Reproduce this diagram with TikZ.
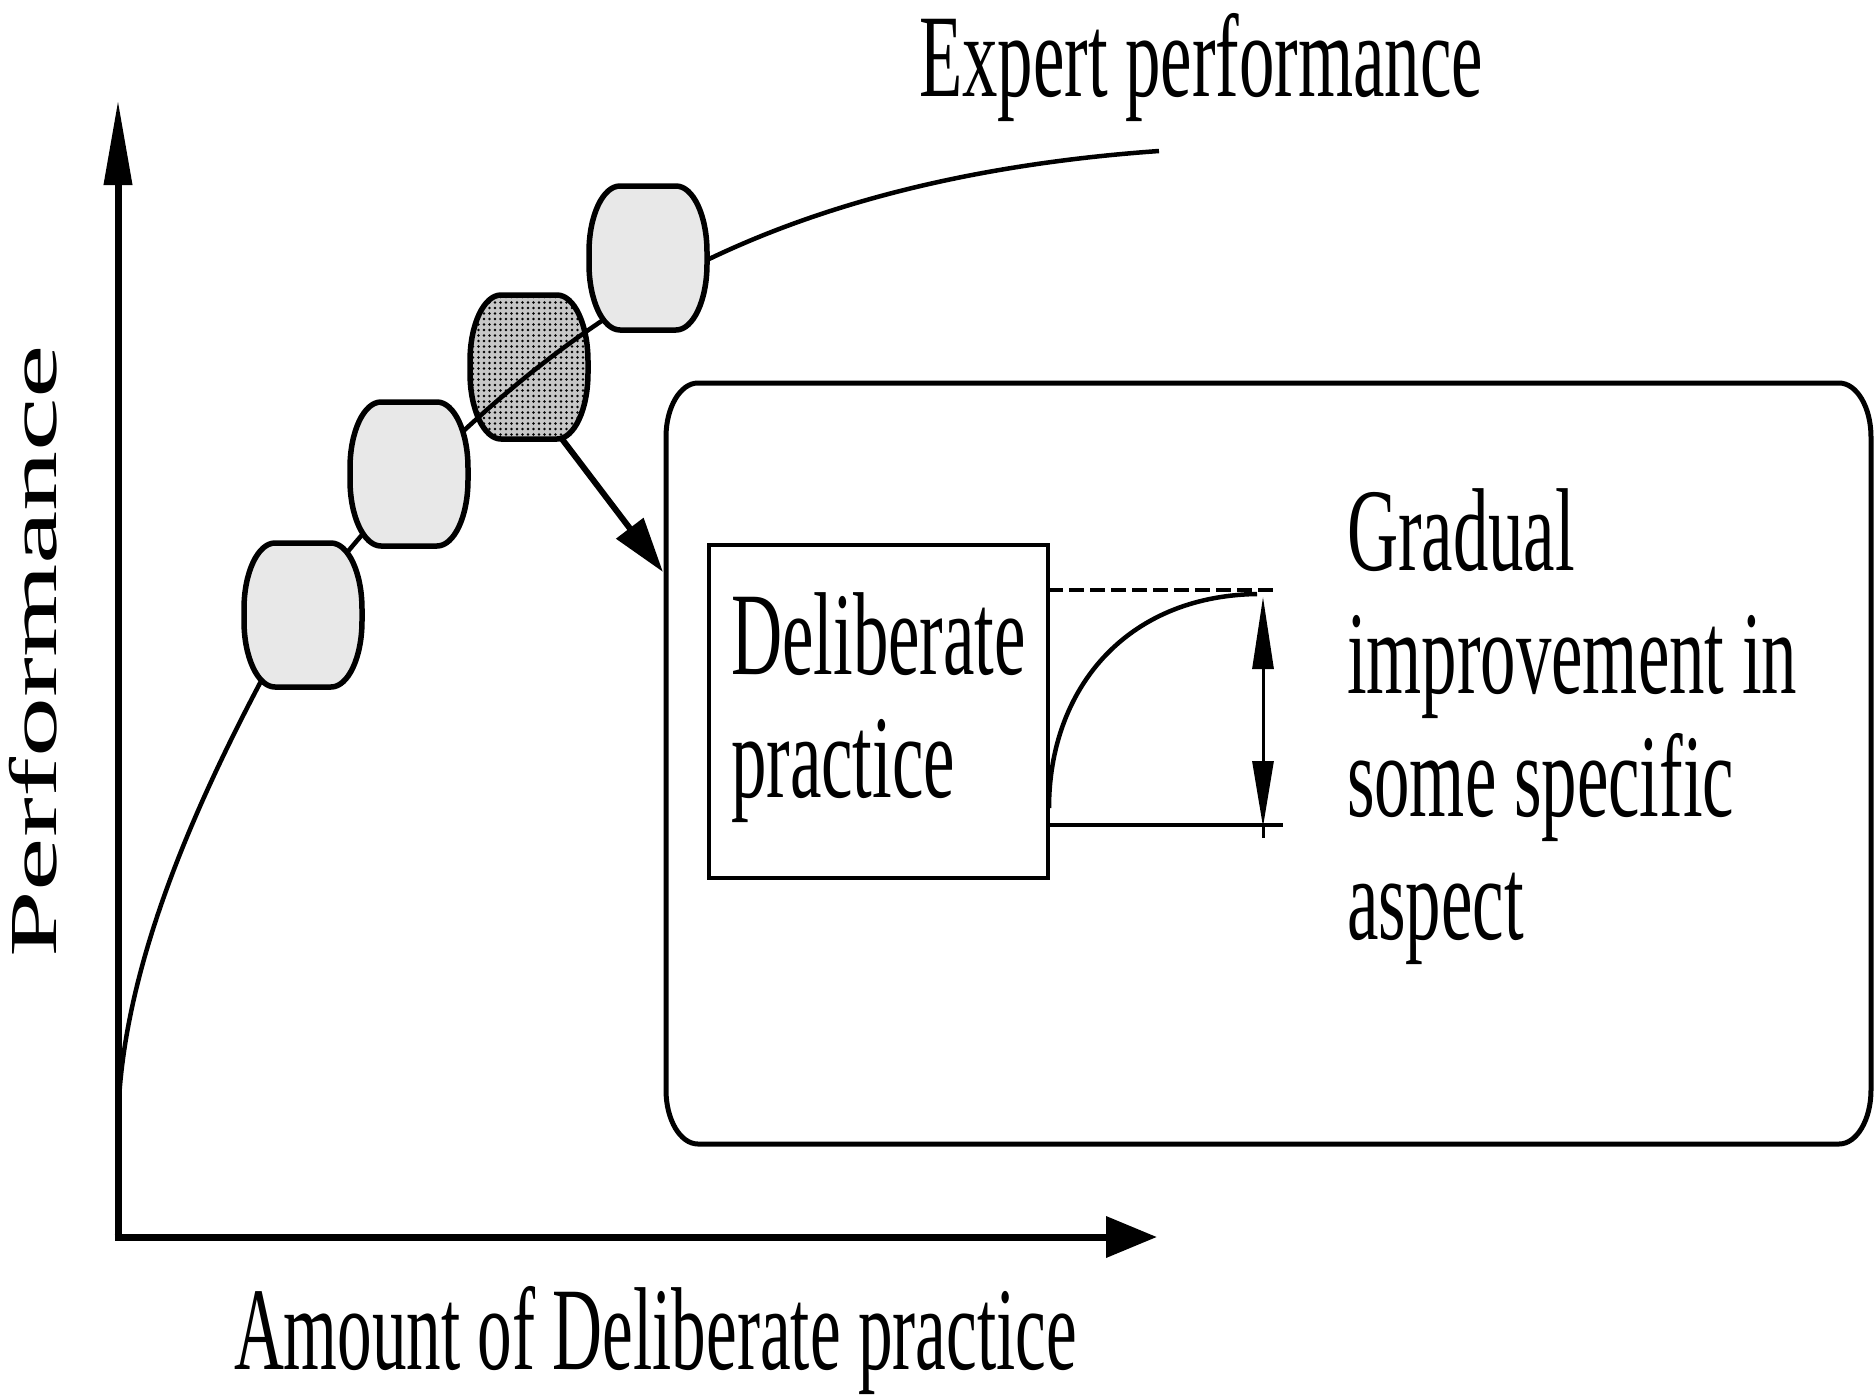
\documentclass[tikz,border=0pt]{standalone}
\usepackage{fontspec}
\setmainfont{Liberation Serif}
\usetikzlibrary{arrows.meta,calc,patterns.meta}
\newcommand\cond[1]{\scalebox{0.6}[1]{#1}}
% rectangle with elliptical corners drawn round a node
\newcommand\eframe[4]{%
  \path[#4] let \p1=(#1.north west), \p2=(#1.south east) in
    (\x1+#2,\y1) -- (\x2-#2,\y1)
    arc[start angle=90,end angle=0,x radius=#2,y radius=#3]
    -- (\x2,\y2+#3)
    arc[start angle=0,end angle=-90,x radius=#2,y radius=#3]
    -- (\x1+#2,\y2)
    arc[start angle=-90,end angle=-180,x radius=#2,y radius=#3]
    -- (\x1,\y1-#3)
    arc[start angle=180,end angle=90,x radius=#2,y radius=#3] -- cycle;}
\begin{document}
\begin{tikzpicture}[x=1pt,y=-1pt,
  txt/.style={font=\fontsize{118}{123}\selectfont, inner sep=0pt, outer sep=0pt},
  blob/.style={minimum width=118pt, minimum height=144pt, inner sep=0pt, outer sep=0pt},
  blobline/.style={draw=black, line width=5.5pt, fill=black!9},
  darkblob/.style={draw=black, line width=5.5pt, preaction={fill=black!22},
    pattern={Dots[radius=1.3pt,distance=5.5pt]}, pattern color=black},
  axis/.style={line width=7pt},
  curve/.style={line width=4.5pt},
  thinln/.style={line width=4.5pt},
  dashln/.style={line width=4.5pt, dash pattern=on 15pt off 6pt},
]
\useasboundingbox (0,0) rectangle (1874,1397);
\fill[white] (0,0) rectangle (1874,1397);

% axes
\coordinate (o) at (118,1237);
\coordinate (ytip) at (118,100);
\coordinate (xtip) at (1157,1237);
\draw[axis, -{Triangle[length=85pt,width=27pt]}] ([yshift=-3.5pt]o) -- (ytip);
\draw[axis, -{Triangle[length=51pt,width=40pt]}] ([xshift=-3.5pt]o) -- (xtip);

% blobs (named)
\node[blob] (b1) at (303,615) {};
\node[blob] (b2) at (409,474) {};
\node[blob] (b3) at (529,367) {};
\node[blob] (b4) at (648,258) {};

% highlighted blob under the curve
\eframe{b3}{31pt}{66pt}{darkblob}

% main learning curve
\coordinate (c0) at (118,1236);
\coordinate (c1) at (118,1130);
\coordinate (c2) at (259,685);
\coordinate (c3) at (470,425);
\coordinate (c4) at (707,260);
\coordinate (cend) at (1159,151);
\draw[curve] (c0) -- (c1)
  .. controls (118,990) and (180,835) .. (c2)
  .. controls (308,587) and (389,499) .. (c3)
  .. controls (541,360) and (621,302) .. (c4)
  .. controls (846,193) and (1004,162) .. (cend);

% other blobs on top of the curve
\eframe{b1}{31pt}{66pt}{blobline}
\eframe{b2}{31pt}{66pt}{blobline}
\eframe{b4}{31pt}{66pt}{blobline}

% big rounded box
\node[minimum width=1205pt, minimum height=761pt, inner sep=0pt, outer sep=0pt] (big) at (1268.5,763.5) {};
\eframe{big}{32pt}{54pt}{draw=black, line width=5pt}

% zoom arrow
\coordinate (tip) at (663,572);
\draw[line width=6pt, -{Triangle[length=55pt,width=33pt]}] ($(b3.south)+(33,0)$) -- (tip);

% deliberate practice box
\node[txt, draw=black, line width=4.5pt, minimum width=339pt, minimum height=333pt] (dp) at (878.5,711.5)
  {\cond{\begin{tabular}{@{}l@{}}Deliberate\\practice\end{tabular}}};

% small improvement curve
\coordinate (dashend) at (1275,590);
\coordinate (baseend) at (1283,825);
\draw[dashln] (dp.east |- dashend) -- (dashend);
\draw[thinln] (dp.east |- baseend) -- (baseend);
\draw[thinln] (1049,808) .. controls (1049,690) and (1125,596) .. (1257,594);
\coordinate (ua) at (1263,597);
\coordinate (la) at (1263,827);
\draw[line width=3pt, {Triangle[length=72pt,width=21pt]}-{Triangle[length=66pt,width=21pt]}] (ua) -- (la);
\draw[line width=3pt] (la) -- (1263,838);

% texts
\node[txt, anchor=base west] (ep) at (919,96) {\cond{Expert performance}};
\node[txt, anchor=base west] (xl) at (234,1369) {\scalebox{0.586}[1]{Amount of Deliberate practice}};
\node[inner sep=0pt, font=\fontsize{120}{123}\selectfont, anchor=base west, rotate=90] (yl) at (56,958)
  {\scalebox{1}[0.56]{Performance}};
\node[txt, anchor=base west] (gi) at (1347,570)
  {\cond{\begin{tabular}[t]{@{}l@{}}Gradual\\improvement in\\some specific\\aspect\end{tabular}}};
\end{tikzpicture}
\end{document}
